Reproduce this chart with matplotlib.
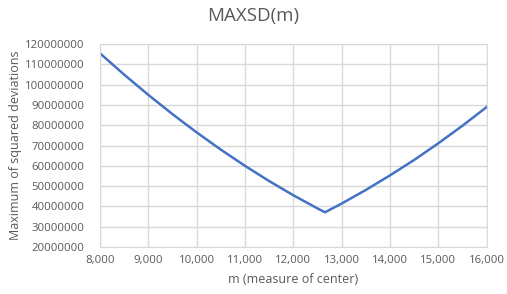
import matplotlib.pyplot as plt
from matplotlib.ticker import FuncFormatter

# values
m = [8000, 8500, 9000, 9500, 10000, 10500, 11000, 11500, 12000, 12500, 12656,
     13000, 13500, 14000, 14500, 15000, 15500, 16000]
maxsd = [115.5e6, 105.0e6, 95.0e6, 85.5e6, 76.5e6, 68.0e6, 60.0e6, 52.5e6, 45.5e6,
         39.0e6, 37.1e6, 41.4e6, 48.1e6, 55.3e6, 62.9e6, 71.1e6, 79.8e6, 89.0e6]
x_ticks = [8000, 9000, 10000, 11000, 12000, 13000, 14000, 15000, 16000]
y_ticks = [20000000, 30000000, 40000000, 50000000, 60000000, 70000000,
           80000000, 90000000, 100000000, 110000000, 120000000]

plt.rcParams['font.family'] = ['Open Sans', 'DejaVu Sans']
txt = '#595959'

fig = plt.figure(figsize=(5.07, 2.94), dpi=100)
ax = fig.add_axes([0.197, 0.160, 0.763, 0.690])
ax.plot(m, maxsd, color='#4472C4', linewidth=1.8)

ax.set_xlim(8000, 16000)
ax.set_ylim(20000000, 120000000)
ax.set_xticks(x_ticks)
ax.set_yticks(y_ticks)
ax.xaxis.set_major_formatter(FuncFormatter(lambda v, p: f'{int(v):,}'))
ax.yaxis.set_major_formatter(FuncFormatter(lambda v, p: f'{int(v)}'))
ax.tick_params(length=0, labelsize=8.2, colors=txt)
ax.tick_params(axis='x', pad=6)
ax.tick_params(axis='y', pad=11)
ax.grid(color='#D9D9D9', linewidth=1)
ax.set_axisbelow(True)
for s in ax.spines.values():
    s.set_color('#D9D9D9')

fig.text(0.5, 0.947, 'MAXSD(m)', fontsize=13.5, color=txt, ha='center', va='center')
ax.set_xlabel('m (measure of center)', fontsize=9, color=txt, labelpad=5)
ax.set_ylabel('Maximum of squared deviations', fontsize=9, color=txt, labelpad=2.5)

fig.savefig('out.png', dpi=100)
